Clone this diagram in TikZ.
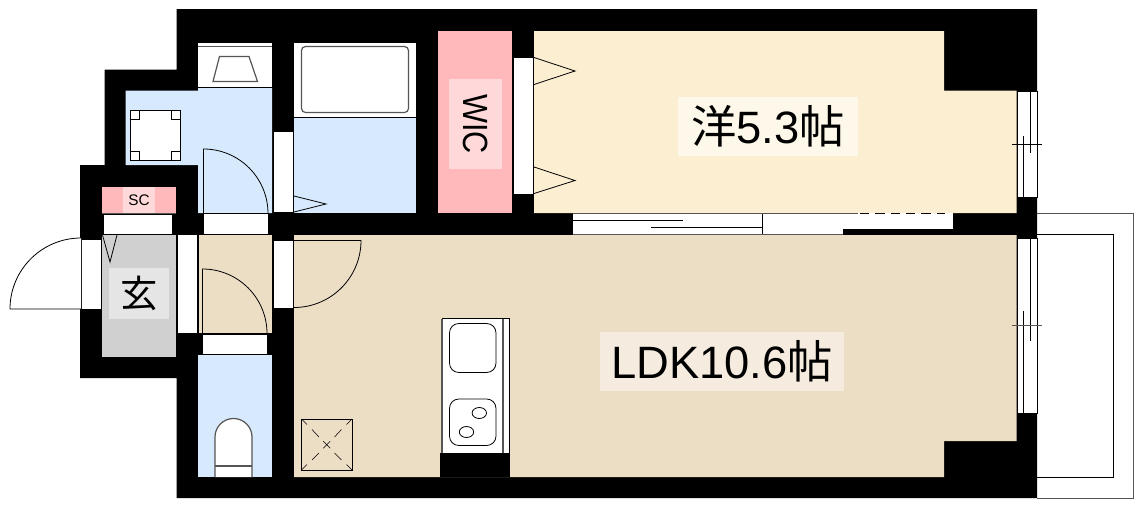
\documentclass[tikz,border=0pt]{standalone}
\usepackage{fontspec}
\setmainfont{Liberation Sans}
\newfontfamily\cjk{Noto Sans CJK JP}
\definecolor{bluef}{HTML}{D7E9FC}
\definecolor{beigef}{HTML}{ECDDC5}
\definecolor{yellowf}{HTML}{FCEFD1}
\definecolor{pinkf}{HTML}{FFB9BB}
\definecolor{grayf}{HTML}{D0D0D0}
\definecolor{fixt}{HTML}{555555}
\tikzset{
  thin line/.style={draw=black,line width=0.6pt},
  fixture/.style={draw=fixt,line width=0.9pt},
  opening/.style={fill=white,draw=black,line width=0.6pt},
  patch/.style={inner sep=0pt,outer sep=0pt,text=black,align=center},
  wall/.style={fill=black,draw=none},
}
\begin{document}
\begin{tikzpicture}[x=0.75pt,y=-0.75pt]
\useasboundingbox (0,0) rectangle (1143,508);
% balcony
\draw[draw=fixt,line width=0.7pt,fill=white] (1037,213.5) -- (1133.5,213.5) -- (1133.5,498) -- (1037,498);
\draw[thin line] (1037,234.5) -- (1113,234.5) -- (1113,477) -- (1037,477);
% outer walls
\fill[wall] (176.5,9) -- (1037,9) -- (1037,498) -- (176.5,498) -- (176.5,378) -- (80,378) -- (80,165) -- (104.5,165) -- (104.5,69.5) -- (176.5,69.5) -- cycle;
% wash room
\fill[bluef] (125.5,90.5) -- (198,90.5) -- (198,87.5) -- (272,87.5) -- (272,213) -- (198,213) -- (198,165) -- (125.5,165) -- cycle;
\fill[white] (198,43) rectangle (272,87.5);
\draw[thin line] (198,87.5) -- (272,87.5);
\draw[fixture] (198,46.5) -- (272,46.5);
\draw[fixture] (213,81.5) -- (219.5,56.5) -- (249,56.5) -- (257.5,81.5) -- cycle;
\draw[thin line,fill=white] (130.5,110.5) rectangle (180.5,160.5);
\draw[thin line] (130.5,119.5) -| (139.5,110.5) (171.5,110.5) |- (180.5,119.5) (130.5,151.5) -| (139.5,160.5) (171.5,160.5) |- (180.5,151.5);
\draw[thin line] (203.5,213) -- (203.5,149) arc[start angle=-90,end angle=0,radius=64.5];
\draw[opening] (203.5,213.5) rectangle (268,234);
\draw[opening] (273,131) rectangle (293,212);
% bath
\fill[bluef] (294,117.5) rectangle (416,213);
\fill[white] (294,43) rectangle (416,117.5);
\draw[thin line] (294,117.5) -- (416,117.5);
\draw[fixture,rounded corners=3pt] (301.5,46.5) rectangle (408.5,112.5);
\draw[thin line] (294,196) -- (326,204) -- (294,212);
% WIC
\fill[pinkf] (438,31) rectangle (512,213);
\node[patch,fill=white!45!pinkf,minimum width=39.75pt,minimum height=67.5pt] (wic) at (475.5,124) {\rotatebox{-90}{\scalebox{0.92}[1.05]{\fontsize{25}{25}\selectfont WIC}}};
\draw[opening] (513,57) rectangle (533,194);
% western room
\fill[yellowf] (534,31) -- (944,31) -- (944,90.5) -- (1016.5,90.5) -- (1016.5,213) -- (534,213) -- cycle;
\draw[thin line] (534,57.5) -- (575,71) -- (534,84.5) (534,167) -- (575,180.5) -- (534,193.5);
\node[patch,fill=white!55!yellowf,minimum width=135pt,minimum height=44.25pt] (room) at (768,126.5) {\fontsize{34}{34}\selectfont{\cjk 洋}5.3{\cjk 帖}};
% sliding door
\fill[white] (572.5,213) rectangle (953,234);
\draw[fixt,line width=0.6pt] (572.5,213.7) -- (858,213.7);
\draw[black,line width=0.7pt,dash pattern=on 7pt off 4.5pt] (860,213.7) -- (945,213.7);
\draw[thin line] (572.5,220.5) -- (683,220.5) (651,227.5) -- (762,227.5) (762,214) -- (762,234);
\fill[wall] (842.5,228.5) rectangle (953,235);
% LDK
\fill[beigef] (294,235) -- (1016.5,235) -- (1016.5,441) -- (944,441) -- (944,477) -- (294,477) -- cycle;
\draw[fixt,line width=0.6pt] (572.5,234.3) -- (842.5,234.3);
\node[patch,fill=white!45!beigef,minimum width=183pt,minimum height=44.25pt] (ldk) at (722,361.5) {\fontsize{34}{34}\selectfont LDK10.6{\cjk 帖}};
% kitchen
\draw[thin line,fill=white] (442,318.5) rectangle (509.5,453);
\draw[fixture] (442,318.5) -- (442,453) (503,318.5) -- (503,453);
\fill[wall] (440,453) rectangle (509.5,477);
\draw[thin line,rounded corners=7pt] (449.5,323.5) rectangle (496,372.5);
\draw[thin line,rounded corners=7pt] (449.5,399) rectangle (496,445.5);
\draw[thin line] (479.3,413) ellipse[x radius=7.2,y radius=5.5] (466.5,432) ellipse[x radius=7.2,y radius=5.5];
% hatch
\draw[thin line] (301.5,419) rectangle (352,470);
\draw[line width=0.4pt] (301.5,419) -- (307,424.5) (312,429.5) -- (319,437) (323.2,441.2) -- (330.2,448.2) (323.2,448.2) -- (330.2,441.2)
 (334.5,453) -- (341.5,460) (346.5,464.5) -- (352,470)
 (352,419) -- (346.5,424.5) (341.5,429.5) -- (334.5,437) (319,453) -- (312,460) (307,464.5) -- (301.5,470);
% LDK door
\draw[opening] (273.5,240) rectangle (293.5,308);
\draw[thin line] (294,307.5) arc[start angle=90,end angle=0,radius=67] -- (294,240.5);
% hall
\fill[beigef] (198,235) rectangle (272,333);
\draw[thin line] (202.5,333) -- (202.5,269) arc[start angle=-90,end angle=0,radius=64.5];
\draw[thin line] (198,235) -- (198,333) (198,234.5) -- (272,234.5) (198,333.3) -- (272,333.3);
\draw[opening] (202,334) rectangle (267,354);
\draw[opening] (177,234.5) rectangle (197,333);
% toilet
\fill[bluef] (198,355) rectangle (272,477);
\draw[fixture,fill=white] (215,477) -- (215,437) arc[start angle=180,end angle=360,radius=18.5] -- (252,477);
\draw[fixture,line width=1.2pt] (215,466) -- (252,466);
% entry
\fill[grayf] (102,235) rectangle (176,357);
\draw[thin line] (102,234.5) -- (176,234.5);
\node[patch,fill=white!45!grayf,minimum width=45pt,minimum height=38.25pt] (genkan) at (139,293.5) {\fontsize{28}{28}\selectfont\cjk 玄};
\draw[thin line] (102.5,235) -- (110,262) -- (117,235);
\draw[opening] (81,239) rectangle (101,309);
\draw[thin line,fill=white] (81,309) -- (10,309) arc[start angle=180,end angle=270,radius=71];
\draw[opening] (103,214) rectangle (172,234);
% SC
\fill[pinkf] (102,187) rectangle (176,213);
\draw[fixt,line width=0.5pt] (102,213.3) -- (176,213.3);
\node[patch,fill=white!45!pinkf,minimum width=24pt,minimum height=19.5pt] (sc) at (139,200) {\fontsize{11.5}{11.5}\selectfont SC};
% windows
\draw[opening] (1017,91) rectangle (1037,197);
\draw[thin line] (1023.5,136) -- (1023.5,197) (1030,91) -- (1030,153) (1012,144.5) -- (1042,144.5);
\draw[opening] (1017,238) rectangle (1037,413);
\draw[thin line] (1023.5,311) -- (1023.5,413) (1030,238) -- (1030,341);
\draw[fixture,line width=0.7pt] (1012,325.7) -- (1042,325.7);
\end{tikzpicture}
\end{document}
